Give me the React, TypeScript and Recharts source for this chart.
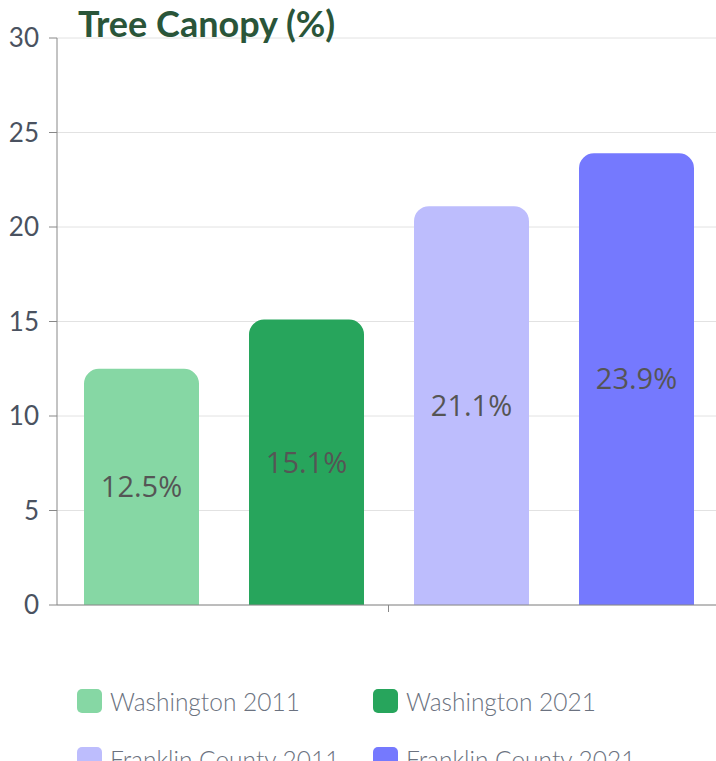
import React from 'react';
import { BarChart, Bar, XAxis, YAxis, CartesianGrid, LabelList } from 'recharts';

const categories = ['Tree Canopy'];
const seriesKeys = ['w2011', 'w2021', 'f2011', 'f2021'];
const seriesNames = ['Washington 2011', 'Washington 2021', 'Franklin County 2011', 'Franklin County 2021'];
const seriesValues = [12.5, 15.1, 21.1, 23.9];
const seriesColors = ['#86d7a4', '#27a55c', '#bdbdfd', '#7579fe'];
const yTicks = [0, 5, 10, 15, 20, 25, 30];

const data = categories.map((name) => {
  const row: Record<string, string | number> = { name };
  seriesKeys.forEach((k, i) => {
    row[k] = seriesValues[i];
  });
  return row;
});

export default function App() {
  return (
    <div style={{ position: 'absolute', left: 0, top: 0, width: 716, height: 761, overflow: 'hidden', background: '#fff' }}>
      <BarChart
        width={720}
        height={620}
        data={data}
        margin={{ top: 38, right: 0, left: 0, bottom: 0 }}
        barGap={50}
        barSize={115}
      >
        <CartesianGrid vertical={false} stroke="#e2e2e2" />
        <XAxis
          dataKey="name"
          height={15}
          tickSize={7}
          tickFormatter={() => ''}
          axisLine={{ stroke: '#888' }}
          tickLine={{ stroke: '#888' }}
        />
        <YAxis
          width={57}
          domain={[0, 30]}
          ticks={yTicks}
          interval={0}
          tickSize={8}
          tickMargin={10}
          axisLine={{ stroke: '#888' }}
          tickLine={{ stroke: '#888' }}
          tick={{ fill: '#4a5260', fontSize: 26, fontFamily: 'Lato', fontWeight: 400 }}
        />
        {seriesKeys.map((k, i) => (
          <Bar key={k} dataKey={k} name={seriesNames[i]} fill={seriesColors[i]} radius={[15, 15, 0, 0]} isAnimationActive={false}>
            <LabelList
              dataKey={k}
              position="center"
              formatter={(v: number) => `${v}%`}
              fill="#555"
              style={{ fontSize: 29, fontFamily: 'Open Sans' }}
            />
          </Bar>
        ))}
      </BarChart>
      <div
        style={{
          position: 'absolute',
          left: 78,
          top: 5,
          fontFamily: 'Lato',
          fontWeight: 700,
          fontSize: 36,
          lineHeight: 1,
          color: '#2a5539',
          whiteSpace: 'nowrap',
        }}
      >
        Tree Canopy (%)
      </div>
      <div
        style={{
          position: 'absolute',
          left: 77,
          top: 689,
          display: 'grid',
          gridTemplateColumns: '296px 300px',
          rowGap: 34,
          fontFamily: 'Lato',
          fontWeight: 300,
          fontSize: 24.5,
          color: '#6b7280',
        }}
      >
        {seriesNames.map((n, i) => (
          <div key={n} style={{ display: 'flex', alignItems: 'center', height: 24, whiteSpace: 'nowrap' }}>
            <span
              style={{
                display: 'inline-block',
                width: 25,
                height: 24,
                borderRadius: 5,
                background: seriesColors[i],
                marginRight: 8,
                flexShrink: 0,
              }}
            />
            <span>{n}</span>
          </div>
        ))}
      </div>
    </div>
  );
}
